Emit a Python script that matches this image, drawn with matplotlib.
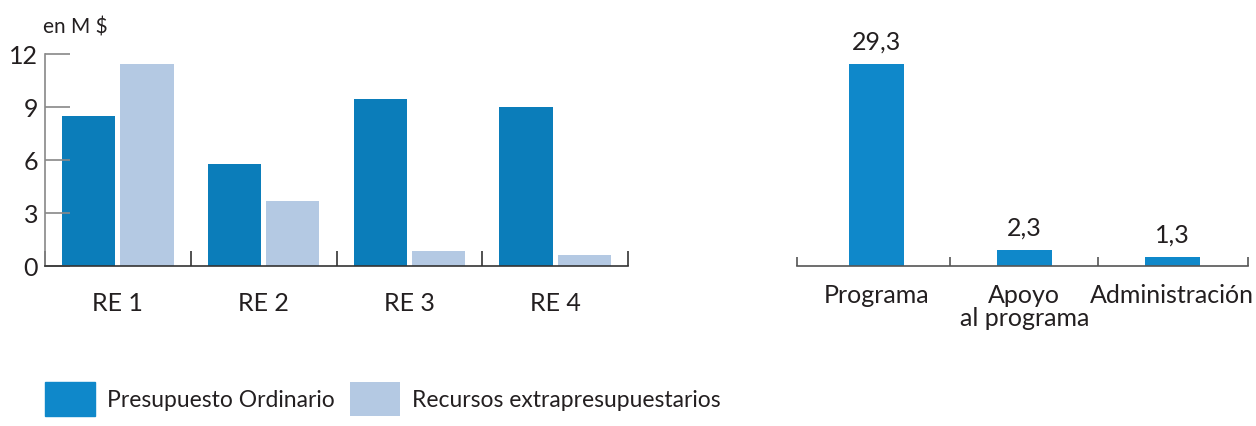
import matplotlib.pyplot as plt
import numpy as np

plt.rcParams['font.family'] = ['Lato', 'DejaVu Sans']

# left chart data (en M $)
re_labels = ["RE 1", "RE 2", "RE 3", "RE 4"]
ordinario = [8.5, 5.8, 9.45, 9.0]
extra = [11.45, 3.7, 0.85, 0.65]

# right chart data
gasto_labels = ["Programa", "Apoyo\nal programa", "Administración"]
gasto_values = [29.3, 2.3, 1.3]
gasto_text = ["29,3", "2,3", "1,3"]

dark = "#0b7dba"
dark2 = "#0f88ca"
light = "#b4c9e3"
txt = "#231f20"

W, H = 1256, 427
fig = plt.figure(figsize=(W / 100, H / 100), dpi=100)

# ---- left chart
ax = fig.add_axes([45 / W, (H - 267) / H, 583 / W, 212 / H])
x = np.arange(len(re_labels))
b1 = ax.bar(x - 0.2, ordinario, 0.364, color=dark, label="Presupuesto Ordinario")
b2 = ax.bar(x + 0.2, extra, 0.364, color=light, label="Recursos extrapresupuestarios")
ax.set_xlim(-0.5, 3.5)
ax.set_ylim(0, 12)
ax.set_yticks([0, 3, 6, 9, 12])
ax.set_xticks(np.arange(-0.5, 4, 1))
ax.set_xticklabels([])
ax.set_xticks(x, minor=True)
ax.set_xticklabels(re_labels, minor=True)
ax.tick_params(axis="x", which="major", direction="in", length=11, width=1.2, color="#333333")
ax.tick_params(axis="x", which="minor", length=0, pad=18, labelsize=18, labelcolor=txt)
ax.tick_params(axis="y", direction="in", length=18, width=1.2, color="#888888",
               labelsize=18, labelcolor=txt, pad=5)
for s in ["top", "right"]:
    ax.spines[s].set_visible(False)
ax.spines["left"].set_color("#888888")
ax.spines["left"].set_linewidth(1.2)
ax.spines["bottom"].set_color("#333333")
ax.spines["bottom"].set_linewidth(1.2)
ax.set_zorder(1)

fig.text(43 / W, (H - 33) / H, "en M $", fontsize=15, color=txt, va="baseline", ha="left")

# ---- right chart
ax2 = fig.add_axes([797 / W, (H - 267) / H, 451 / W, 212 / H])
x2 = np.arange(len(gasto_labels))
bars = ax2.bar(x2, gasto_values, 0.37, color=dark2)
ax2.set_xlim(-0.535, 2.512)
ax2.set_ylim(0, 29.3 * 212 / 202)
for rect, t in zip(bars, gasto_text):
    ax2.annotate(t, (rect.get_x() + rect.get_width() / 2, rect.get_height()),
                 xytext=(0, 11), textcoords="offset points", ha="center", va="baseline",
                 fontsize=18, color=txt)
ax2.set_xticks([-0.535, 0.5, 1.5, 2.512])
ax2.set_xticklabels([])
ax2.set_xticks(x2, minor=True)
ax2.set_xticklabels(gasto_labels, minor=True, linespacing=1.0)
ax2.tick_params(axis="x", which="major", direction="in", length=6.5, width=1.2, color="#555555")
ax2.tick_params(axis="x", which="minor", length=0, pad=12, labelsize=18, labelcolor=txt)
ax2.set_yticks([])
for s in ["top", "right", "left"]:
    ax2.spines[s].set_visible(False)
ax2.spines["bottom"].set_color("#555555")
ax2.spines["bottom"].set_linewidth(1.2)

# ---- legend
fs = 16.5
fpx = fs * 100 / 72
leg = fig.legend(handles=[b1, b2], loc="upper left", bbox_to_anchor=(45 / W, 1 - 383 / H),
                 ncol=2, frameon=False, fontsize=fs, borderpad=0, borderaxespad=0,
                 handlelength=50 / fpx, handleheight=44 / fpx, handletextpad=12 / fpx,
                 columnspacing=15 / fpx, labelcolor=txt)
leg.legend_handles[0].set_color(dark2)

fig.savefig("out.png", dpi=100)
